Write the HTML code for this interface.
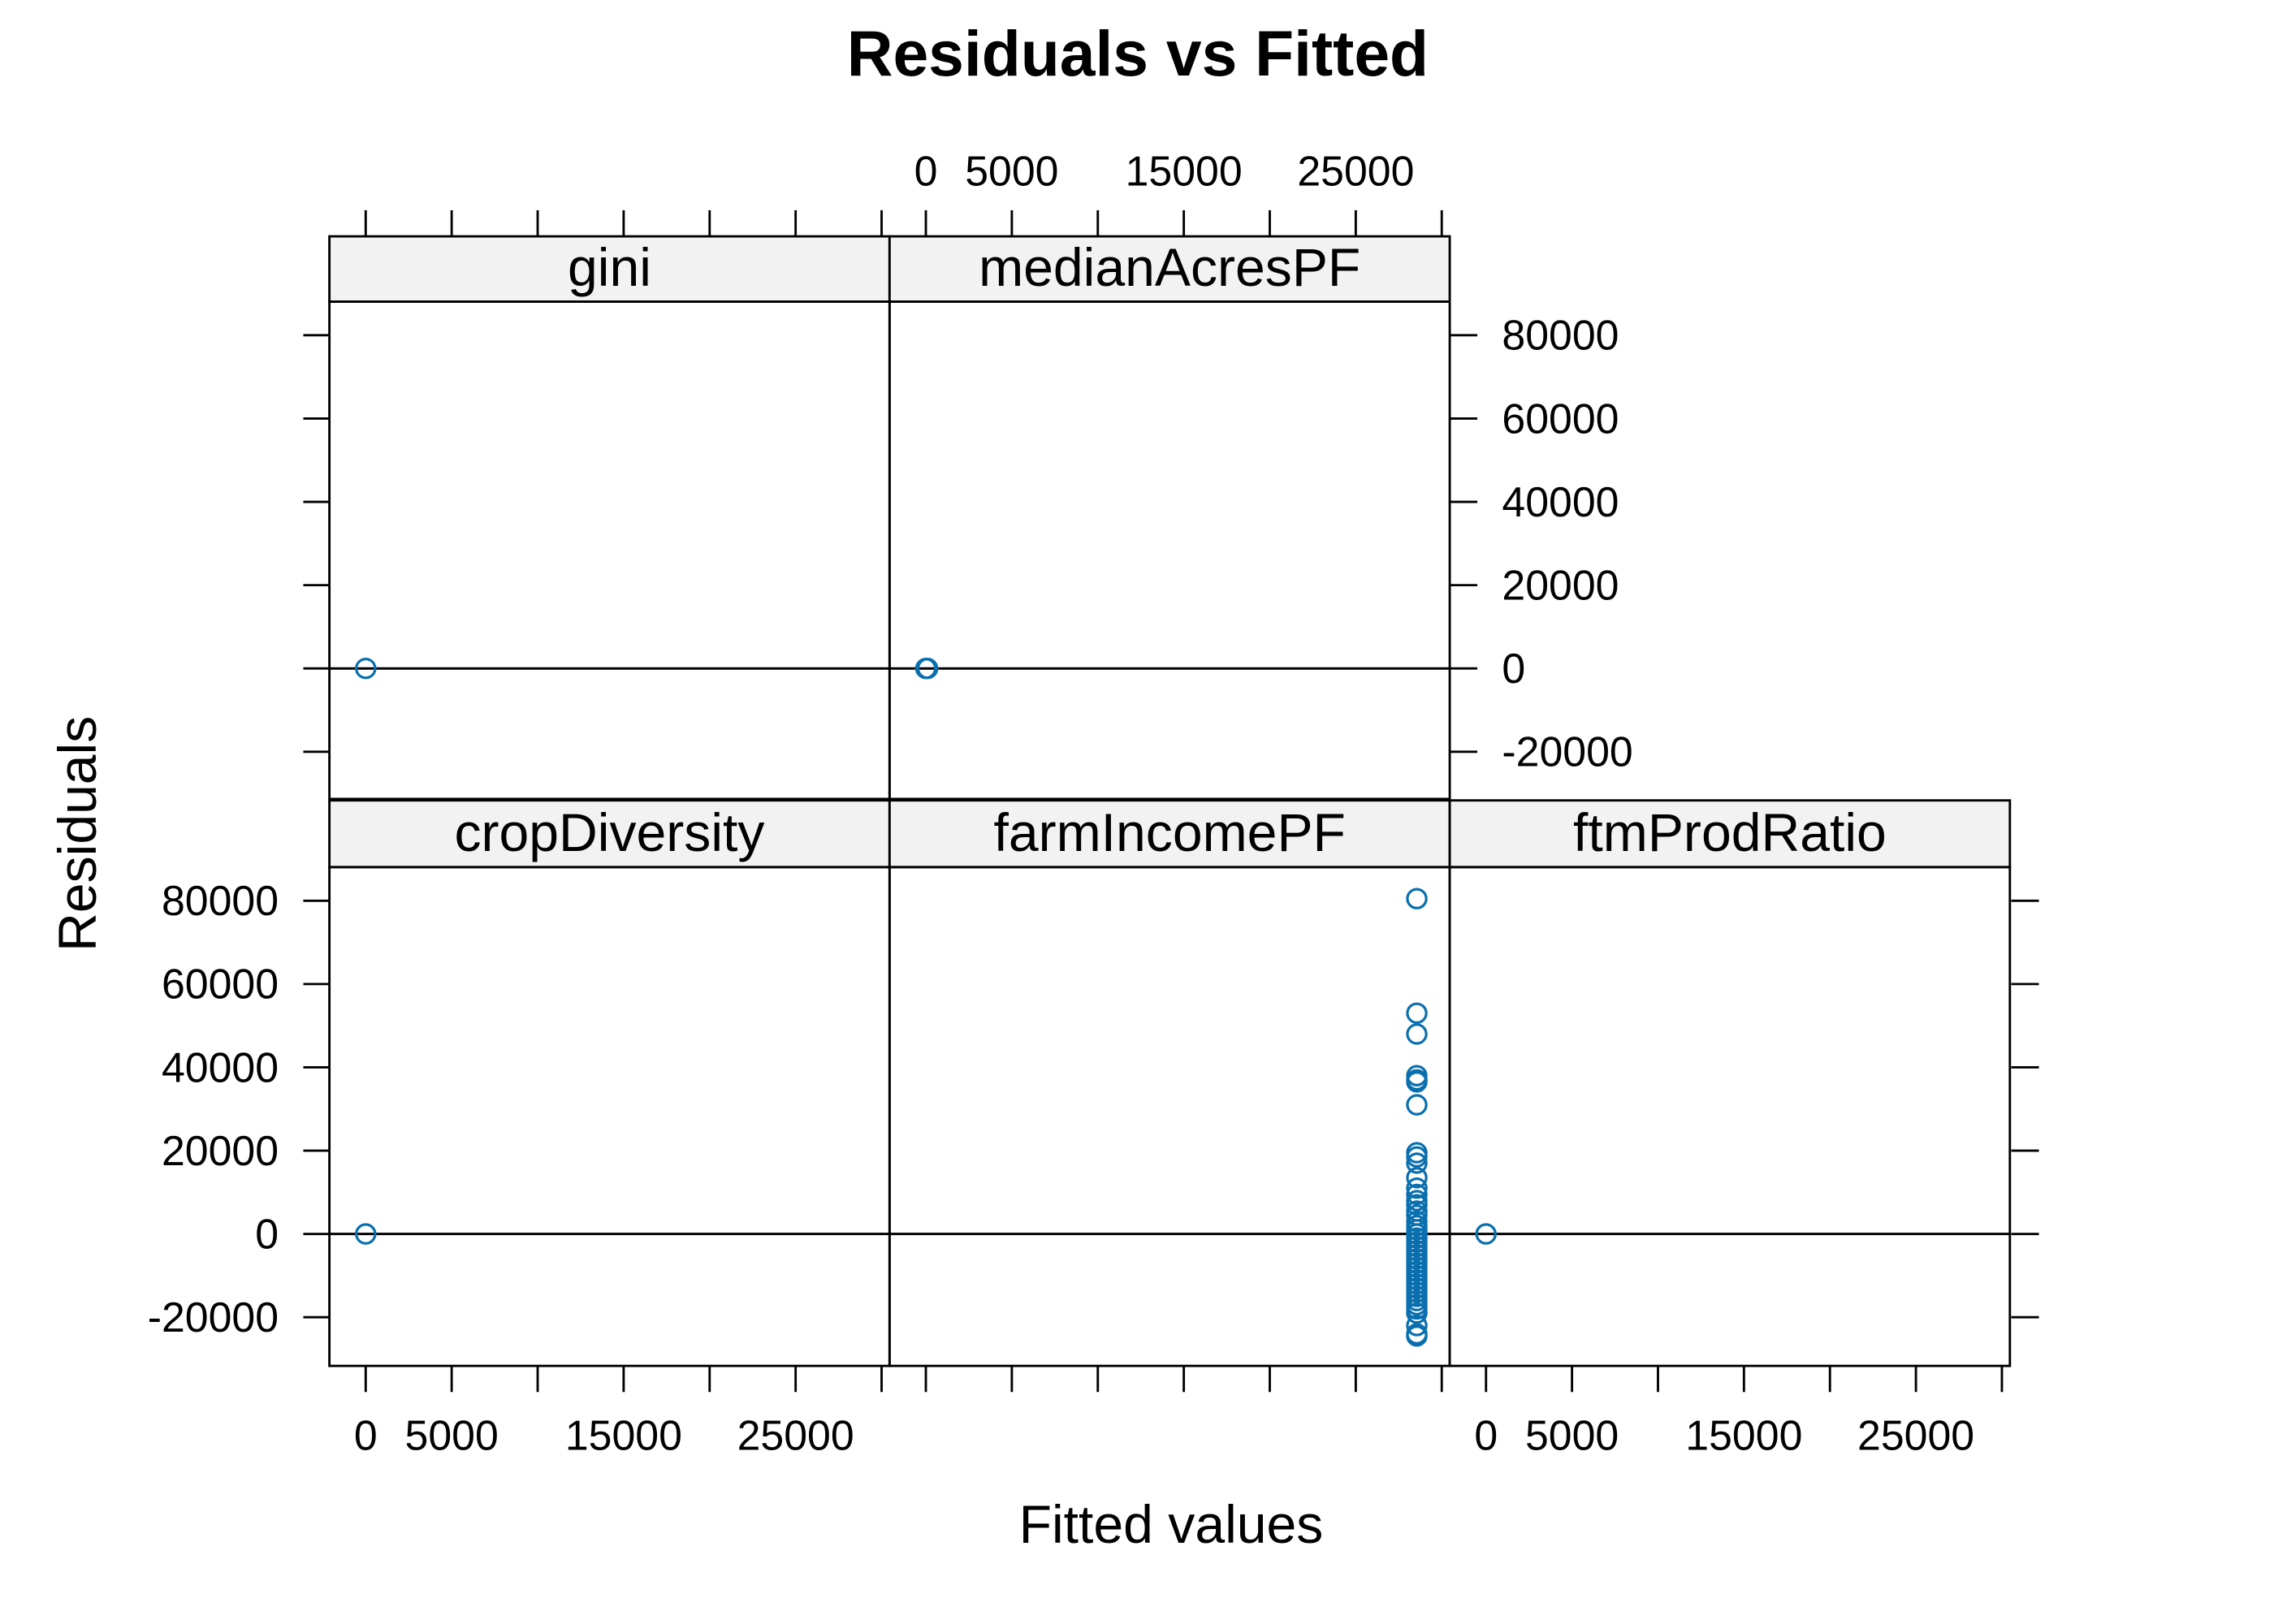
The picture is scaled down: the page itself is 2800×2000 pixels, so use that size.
<!DOCTYPE html>
<html><head><meta charset="utf-8"><style>
html,body{margin:0;padding:0;background:#fff;}
svg{display:block;font-family:"Liberation Sans",Arial,sans-serif;}
</style></head><body>
<svg id="chart" xmlns="http://www.w3.org/2000/svg" width="2800" height="2000" viewBox="0 0 1567 1120" preserveAspectRatio="none">
<rect x="0" y="0" width="1567" height="1120" fill="#fff"/>
<text x="784" y="52" text-anchor="middle" font-size="44" font-weight="bold">Residuals vs Fitted</text>
<text x="807" y="1064" text-anchor="middle" font-size="37">Fitted values</text>
<text transform="translate(66,575) rotate(-90)" text-anchor="middle" font-size="37">Residuals</text>
<g id="plot"></g>
</svg>
<script>
const panelNames = ["gini","medianAcresPF","cropDiversity","farmIncomePF","ftmProdRatio"];
const xTicks = [0,5000,10000,15000,20000,25000,30000];
const xTickLabels = ["0","5000","","15000","","25000",""];
const yTicks = [-20000,0,20000,40000,60000,80000];
const yTickLabels = ["-20000","0","20000","40000","60000","80000"];
const giniFitted = [0];
const giniResid = [0];
const medianFitted = [0, 100];
const medianResid = [0, 0];
const cropFitted = [0];
const cropResid = [0];
const ftmFitted = [0];
const ftmResid = [0];
const incomeFitted = [28550];
const incomeResid = [80500,53000,48000,38000,37000,36500,31000,19500,18500,17000,13500,11000,9500,8000,7000,5500,4500,3000,2000,1000,0,-1000,-2000,-3000,-4000,-5000,-6000,-7000,-8000,-9000,-10000,-11000,-12000,-13000,-14000,-15000,-16000,-17000,-18000,-19000,-22000,-24000,-24500];

const NS="http://www.w3.org/2000/svg";
const g=document.getElementById('plot');
function el(tag,attrs,parent){const e=document.createElementNS(NS,tag);for(const k in attrs)e.setAttribute(k,attrs[k]);(parent||g).appendChild(e);return e;}
const colX=[227,613,999], W=386;
const rows=[{strip:163,top:208,bot:551,zero:461},{strip:552,top:598,bot:942,zero:851}];
const xPer=59.25/5000, yPer=57.45/20000;
function sx(c,v){return colX[c]+25+v*xPer;}
function sy(r,v){return rows[r].zero-v*yPer;}
const panels=[
 {r:0,c:0,name:panelNames[0],fx:giniFitted,ry:giniResid},
 {r:0,c:1,name:panelNames[1],fx:medianFitted,ry:medianResid},
 {r:1,c:0,name:panelNames[2],fx:cropFitted,ry:cropResid},
 {r:1,c:1,name:panelNames[3],fx:incomeFitted,ry:incomeResid},
 {r:1,c:2,name:panelNames[4],fx:ftmFitted,ry:ftmResid}];
panels.forEach(p=>{
 const R=rows[p.r], x0=colX[p.c];
 const pg=el('g',{});
 
 
 const st=el('rect',{x:x0,y:R.strip,width:W,height:R.top-R.strip,fill:'#f2f2f2',stroke:'#000','stroke-width':1.6},pg);
 
 
 const lt=el('text',{x:x0+W/2,y:R.top-11,'text-anchor':'middle','font-size':37},pg);
 lt.textContent=p.name;
 
 
 const ln=el('line',{x1:x0,x2:x0+W,y1:sy(p.r,0),y2:sy(p.r,0),stroke:'#000','stroke-width':1.7},pg);
 
 
 el('rect',{x:x0,y:R.top,width:W,height:R.bot-R.top,fill:'none',stroke:'#000','stroke-width':1.6},pg);
 p.ry.forEach((v,i)=>{
  const fx=p.fx[Math.min(i,p.fx.length-1)];
  const c=el('circle',{cx:sx(p.c,fx),cy:sy(p.r,v),r:6.5,fill:'none',stroke:'#0a6fae','stroke-width':1.8},pg);
  
  
 });
});
const ax=el('g',{});


[0,1].forEach(c=>{xTicks.forEach(v=>{el('line',{x1:sx(c,v),x2:sx(c,v),y1:163,y2:145,stroke:'#000','stroke-width':1.6},ax);});});
xTicks.forEach((v,i)=>{const t=el('text',{x:sx(1,v),y:128,'text-anchor':'middle','font-size':29},ax);t.textContent=xTickLabels[i];
 
 });
[0,1,2].forEach(c=>{xTicks.forEach(v=>{el('line',{x1:sx(c,v),x2:sx(c,v),y1:942,y2:960,stroke:'#000','stroke-width':1.6},ax);});});
[0,2].forEach(c=>{xTicks.forEach((v,i)=>{const t=el('text',{x:sx(c,v),y:1000,'text-anchor':'middle','font-size':29},ax);t.textContent=xTickLabels[i];
 
 });});
yTicks.forEach((v,i)=>{
 el('line',{x1:209,x2:227,y1:sy(0,v),y2:sy(0,v),stroke:'#000','stroke-width':1.6},ax);
 el('line',{x1:999,x2:1018,y1:sy(0,v),y2:sy(0,v),stroke:'#000','stroke-width':1.6},ax);
 const t=el('text',{x:1035,y:sy(0,v)+10,'font-size':29},ax);t.textContent=yTickLabels[i];
 
 
 el('line',{x1:209,x2:227,y1:sy(1,v),y2:sy(1,v),stroke:'#000','stroke-width':1.6},ax);
 el('line',{x1:1386,x2:1405,y1:sy(1,v),y2:sy(1,v),stroke:'#000','stroke-width':1.6},ax);
 const t2=el('text',{x:192,y:sy(1,v)+10,'text-anchor':'end','font-size':29},ax);t2.textContent=yTickLabels[i];
 
 
});
</script>
</body></html>
